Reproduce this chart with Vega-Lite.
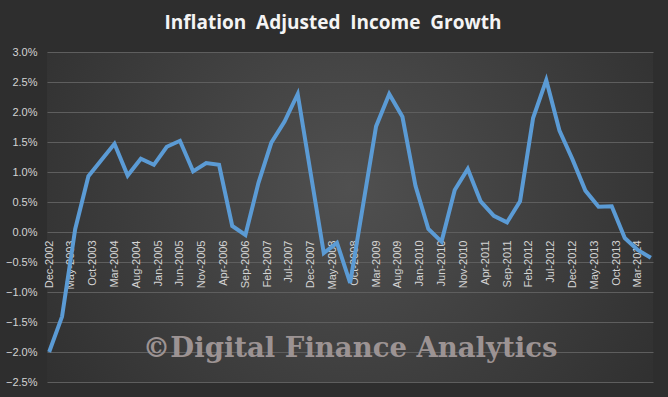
{
  "$schema": "https://vega.github.io/schema/vega-lite/v6.json",
  "width": 606,
  "height": 330,
  "autosize": {"type": "none"},
  "padding": {"left": 47, "top": 52, "right": 15, "bottom": 15},
  "background": "#2e2e2e",
  "view": {
    "stroke": null,
    "fill": {
      "gradient": "radial",
      "x1": 0.5, "y1": 0.45, "r1": 0,
      "x2": 0.5, "y2": 0.45, "r2": 0.75,
      "stops": [
        {"offset": 0, "color": "#505050"},
        {"offset": 1, "color": "#282828"}
      ]
    }
  },
  "title": {
    "text": "Inflation\u00a0\u00a0Adjusted\u00a0\u00a0Income\u00a0\u00a0Growth",
    "color": "#f4f4f4",
    "font": "Open Sans",
    "fontSize": 19,
    "fontWeight": "bold",
    "anchor": "middle",
    "dx": -17,
    "offset": 13
  },
  "datasets": {
    "series": [
      {"date": "2002-12-01", "growth": -2.00},
      {"date": "2003-03-01", "growth": -1.41},
      {"date": "2003-06-01", "growth": 0.05},
      {"date": "2003-09-01", "growth": 0.93},
      {"date": "2003-12-01", "growth": 1.20},
      {"date": "2004-03-01", "growth": 1.47},
      {"date": "2004-06-01", "growth": 0.94},
      {"date": "2004-09-01", "growth": 1.22},
      {"date": "2004-12-01", "growth": 1.12},
      {"date": "2005-03-01", "growth": 1.42},
      {"date": "2005-06-01", "growth": 1.52},
      {"date": "2005-09-01", "growth": 1.01},
      {"date": "2005-12-01", "growth": 1.15},
      {"date": "2006-03-01", "growth": 1.12},
      {"date": "2006-06-01", "growth": 0.10},
      {"date": "2006-09-01", "growth": -0.05},
      {"date": "2006-12-01", "growth": 0.82},
      {"date": "2007-03-01", "growth": 1.49},
      {"date": "2007-06-01", "growth": 1.84},
      {"date": "2007-09-01", "growth": 2.30},
      {"date": "2007-12-01", "growth": 0.97},
      {"date": "2008-03-01", "growth": -0.35},
      {"date": "2008-06-01", "growth": -0.18},
      {"date": "2008-09-01", "growth": -0.85},
      {"date": "2008-12-01", "growth": 0.46},
      {"date": "2009-03-01", "growth": 1.76},
      {"date": "2009-06-01", "growth": 2.30},
      {"date": "2009-09-01", "growth": 1.92},
      {"date": "2009-12-01", "growth": 0.77},
      {"date": "2010-03-01", "growth": 0.05},
      {"date": "2010-06-01", "growth": -0.16},
      {"date": "2010-09-01", "growth": 0.70},
      {"date": "2010-12-01", "growth": 1.05},
      {"date": "2011-03-01", "growth": 0.51},
      {"date": "2011-06-01", "growth": 0.27},
      {"date": "2011-09-01", "growth": 0.16},
      {"date": "2011-12-01", "growth": 0.51},
      {"date": "2012-03-01", "growth": 1.90},
      {"date": "2012-06-01", "growth": 2.53},
      {"date": "2012-09-01", "growth": 1.69},
      {"date": "2012-12-01", "growth": 1.21},
      {"date": "2013-03-01", "growth": 0.69},
      {"date": "2013-06-01", "growth": 0.42},
      {"date": "2013-09-01", "growth": 0.43},
      {"date": "2013-12-01", "growth": -0.10},
      {"date": "2014-03-01", "growth": -0.30},
      {"date": "2014-06-01", "growth": -0.43}
    ],
    "watermark": [
      {"date": "2008-09-01", "growth": -1.95, "label": "©Digital Finance Analytics"}
    ]
  },
  "encoding": {
    "x": {
      "field": "date",
      "type": "temporal",
      "scale": {
        "type": "utc",
        "domain": [
          {"year": 2002, "month": 11, "date": 16, "utc": true},
          {"year": 2014, "month": 6, "date": 16, "utc": true}
        ]
      },
      "axis": {
        "title": null,
        "grid": false,
        "domain": false,
        "ticks": false,
        "offset": -150,
        "labelAngle": 270,
        "labelPadding": 8,
        "labelColor": "#d4d4d4",
        "labelFont": "Liberation Sans",
        "labelFontSize": 11,
        "labelOverlap": false,
        "labelExpr": "utcFormat(datum.value, '%b-%Y')",
        "values": [
          {"year": 2002, "month": 12, "date": 1, "utc": true},
          {"year": 2003, "month": 5, "date": 1, "utc": true},
          {"year": 2003, "month": 10, "date": 1, "utc": true},
          {"year": 2004, "month": 3, "date": 1, "utc": true},
          {"year": 2004, "month": 8, "date": 1, "utc": true},
          {"year": 2005, "month": 1, "date": 1, "utc": true},
          {"year": 2005, "month": 6, "date": 1, "utc": true},
          {"year": 2005, "month": 11, "date": 1, "utc": true},
          {"year": 2006, "month": 4, "date": 1, "utc": true},
          {"year": 2006, "month": 9, "date": 1, "utc": true},
          {"year": 2007, "month": 2, "date": 1, "utc": true},
          {"year": 2007, "month": 7, "date": 1, "utc": true},
          {"year": 2007, "month": 12, "date": 1, "utc": true},
          {"year": 2008, "month": 5, "date": 1, "utc": true},
          {"year": 2008, "month": 10, "date": 1, "utc": true},
          {"year": 2009, "month": 3, "date": 1, "utc": true},
          {"year": 2009, "month": 8, "date": 1, "utc": true},
          {"year": 2010, "month": 1, "date": 1, "utc": true},
          {"year": 2010, "month": 6, "date": 1, "utc": true},
          {"year": 2010, "month": 11, "date": 1, "utc": true},
          {"year": 2011, "month": 4, "date": 1, "utc": true},
          {"year": 2011, "month": 9, "date": 1, "utc": true},
          {"year": 2012, "month": 2, "date": 1, "utc": true},
          {"year": 2012, "month": 7, "date": 1, "utc": true},
          {"year": 2012, "month": 12, "date": 1, "utc": true},
          {"year": 2013, "month": 5, "date": 1, "utc": true},
          {"year": 2013, "month": 10, "date": 1, "utc": true},
          {"year": 2014, "month": 3, "date": 1, "utc": true}
        ]
      }
    },
    "y": {
      "field": "growth",
      "type": "quantitative",
      "scale": {"domain": [-2.5, 3.0], "nice": false, "zero": false},
      "axis": {
        "title": null,
        "values": [-2.5, -2.0, -1.5, -1.0, -0.5, 0, 0.5, 1.0, 1.5, 2.0, 2.5, 3.0],
        "labelExpr": "format(datum.value, '.1f') + '%'",
        "domain": false,
        "ticks": false,
        "labelPadding": 10,
        "labelColor": "#d4d4d4",
        "labelFont": "Liberation Sans",
        "labelFontSize": 11,
        "gridColor": "#5e5e5e",
        "gridWidth": 1
      }
    }
  },
  "layer": [
    {
      "data": {"name": "series"},
      "mark": {"type": "line", "color": "#5b9bd5", "strokeWidth": 4, "strokeJoin": "miter", "strokeCap": "butt"}
    },
    {
      "data": {"name": "watermark"},
      "mark": {
        "type": "text",
        "font": "DejaVu Serif",
        "fontWeight": "bold",
        "fontSize": 27.5,
        "color": "#9c9393",
        "align": "center",
        "baseline": "middle"
      },
      "encoding": {
        "text": {"field": "label"}
      }
    }
  ]
}
